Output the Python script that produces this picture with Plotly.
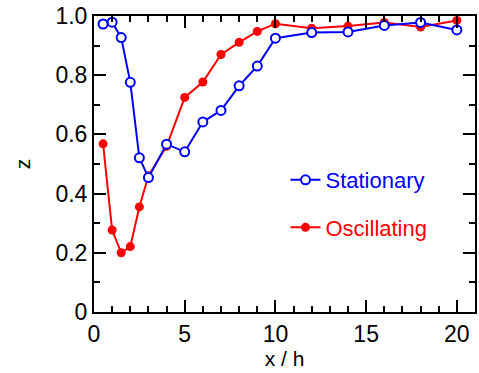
import plotly.graph_objects as go

x_stat = [0.5, 1, 1.5, 2, 2.5, 3, 4, 5, 6, 7, 8, 9, 10, 12, 14, 16, 18, 20]
z_stat = [0.973, 0.979, 0.927, 0.776, 0.521, 0.454, 0.567, 0.541, 0.642, 0.681,
          0.764, 0.831, 0.925, 0.944, 0.946, 0.968, 0.978, 0.953]

x_osc = [0.5, 1, 1.5, 2, 2.5, 3, 4, 5, 6, 7, 8, 9, 10, 12, 14, 16, 18, 20]
z_osc = [0.568, 0.277, 0.200, 0.221, 0.355, 0.460, 0.560, 0.725, 0.777, 0.870,
         0.911, 0.948, 0.974, 0.959, 0.966, 0.978, 0.963, 0.985]

x_ticks = [0, 5, 10, 15, 20]
x_ticktext = ["0", "5", "10", "15", "20"]
y_ticks = [0, 0.2, 0.4, 0.6, 0.8, 1.0]
y_ticktext = ["0", "0.2", "0.4", "0.6", "0.8", "1.0"]

FONT = "Liberation Sans, Arial, sans-serif"

fig = go.Figure()
fig.add_trace(go.Scatter(
    x=x_osc, y=z_osc, mode="lines+markers",
    name='<span style="color:#ff0000">Oscillating</span>',
    line=dict(color="#ff0000", width=2),
    marker=dict(color="#ff0000", size=9, symbol="circle"),
    legendrank=2, legendgroup="b",
))
fig.add_trace(go.Scatter(
    x=x_stat, y=z_stat, mode="lines+markers",
    name='<span style="color:#0000ff">Stationary</span>',
    line=dict(color="#0000ff", width=2),
    marker=dict(color="white", size=9, symbol="circle",
                line=dict(color="#0000ff", width=2)),
    legendrank=1, legendgroup="a",
))

axis_common = dict(
    showgrid=False, zeroline=False, showline=True, linecolor="black", linewidth=2,
    mirror="ticks", ticks="inside", ticklen=12, tickwidth=2, tickcolor="black",
    tickfont=dict(family=FONT, size=23, color="black"),
)

fig.update_xaxes(
    range=[0, 21], tickmode="array", tickvals=x_ticks, ticktext=x_ticktext,
    minor=dict(ticks="inside", ticklen=6, tickwidth=2, tickcolor="black", dtick=1, showgrid=False),
    title=dict(text="x / h", font=dict(family=FONT, size=21, color="black"), standoff=2),
    **axis_common,
)
fig.update_yaxes(
    range=[0, 1.0], tickmode="array", tickvals=y_ticks, ticktext=y_ticktext,
    minor=dict(ticks="inside", ticklen=6, tickwidth=2, tickcolor="black", dtick=0.1, showgrid=False),
    title=dict(text="z", font=dict(family=FONT, size=21, color="black"), standoff=19),
    **axis_common,
)

fig.update_layout(
    width=479, height=373,
    margin=dict(l=94, r=2, t=16, b=61),
    paper_bgcolor="white", plot_bgcolor="white",
    showlegend=True,
    legend=dict(
        x=0.5026, y=0.517, xanchor="left", yanchor="top",
        bgcolor="rgba(0,0,0,0)", borderwidth=0,
        font=dict(family=FONT, size=22),
        tracegroupgap=16, traceorder="grouped",
    ),
    font=dict(family=FONT),
)

fig.write_html("out.html")
